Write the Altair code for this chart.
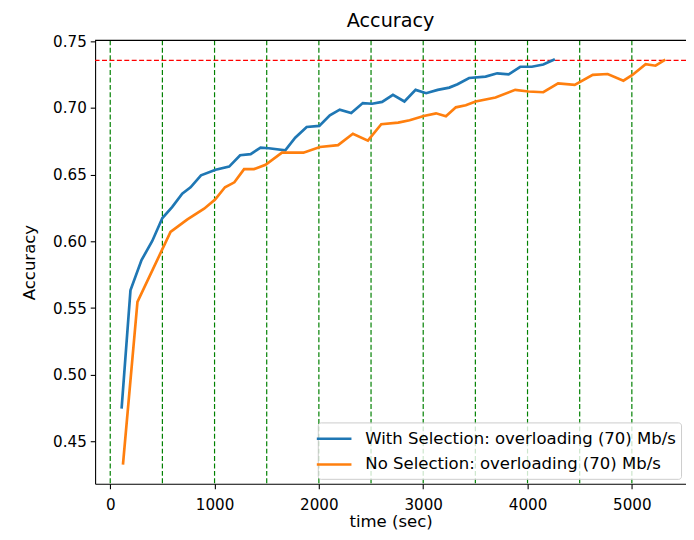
import altair as alt
import pandas as pd

series_names = ["With Selection: overloading (70) Mb/s", "No Selection: overloading (70) Mb/s"]
series_colors = ["#1f77b4", "#ff7f0e"]

with_time = [109, 194, 300, 403, 500, 593, 690, 770, 870, 1010, 1140, 1245, 1346, 1441,
             1520, 1678, 1773, 1883, 2004, 2105, 2200, 2310, 2421, 2510, 2606, 2710, 2820,
             2927, 3028, 3139, 3250, 3329, 3440, 3598, 3709, 3819, 3930, 4041, 4151, 4262]
with_acc = [0.4747, 0.5633, 0.5860, 0.6003, 0.6175, 0.6257, 0.6358, 0.6405, 0.6495, 0.6537,
            0.6561, 0.6646, 0.6654, 0.6703, 0.6698, 0.6683, 0.6777, 0.6858, 0.6866, 0.6945,
            0.6988, 0.6962, 0.7037, 0.7032, 0.7046, 0.7099, 0.7049, 0.7136, 0.7111, 0.7136,
            0.7153, 0.7178, 0.7225, 0.7235, 0.7260, 0.7252, 0.7309, 0.7309, 0.7326, 0.7365]

no_time = [122, 261, 578, 740, 900, 1005, 1100, 1190, 1283, 1378, 1489, 1646, 1852, 2010,
           2184, 2326, 2470, 2598, 2760, 2870, 3005, 3123, 3218, 3313, 3408, 3503, 3693,
           3882, 4009, 4151, 4293, 4452, 4625, 4768, 4919, 5005, 5132, 5227, 5321]
no_acc = [0.4326, 0.5547, 0.6071, 0.6165, 0.6245, 0.6313, 0.6406, 0.6443, 0.6542, 0.6542,
          0.6574, 0.6665, 0.6665, 0.6708, 0.6722, 0.6807, 0.6755, 0.6878, 0.6890, 0.6908,
          0.6940, 0.6960, 0.6938, 0.7005, 0.7020, 0.7049, 0.7079, 0.7136, 0.7124, 0.7118,
          0.7185, 0.7173, 0.7248, 0.7255, 0.7205, 0.7248, 0.7329, 0.7317, 0.7362]

vline_times = [0, 500, 1000, 1500, 2000, 2500, 3000, 3500, 4000, 4500, 5000]
ref_accuracy = [0.7357]
x_ticks = [0, 1000, 2000, 3000, 4000, 5000]
y_ticks = [0.45, 0.50, 0.55, 0.60, 0.65, 0.70, 0.75]

W, H = 597, 448
x_dom = [-145, 5519]
y_dom = [0.4183, 0.7507]

df = pd.concat([
    pd.DataFrame({"time": with_time, "acc": with_acc, "series": series_names[0]}),
    pd.DataFrame({"time": no_time, "acc": no_acc, "series": series_names[1]}),
], ignore_index=True)

xscale = alt.Scale(domain=x_dom, nice=False, zero=False)
yscale = alt.Scale(domain=y_dom, nice=False, zero=False)

xaxis = alt.Axis(values=x_ticks, format="d", title="time (sec)", grid=False,
                 labelFontSize=15.3, titleFontSize=16.7, titleFontWeight="normal",
                 tickSize=4.9, tickColor="black", tickWidth=1.1, domainColor="black",
                 domainWidth=1.1, labelColor="black", titleColor="black",
                 labelPadding=9, titlePadding=1, labelFlush=False)
yaxis = alt.Axis(values=y_ticks, format=".2f", title="Accuracy", grid=False,
                 labelFontSize=15.3, titleFontSize=16.7, titleFontWeight="normal",
                 tickSize=4.9, tickColor="black", tickWidth=1.1, domainColor="black",
                 domainWidth=1.1, labelColor="black", titleColor="black",
                 labelPadding=4, titlePadding=14, labelFlush=False)

vlines = alt.Chart(pd.DataFrame({"t": vline_times})).mark_rule(
    color="#008000", strokeDash=[5, 2.5], strokeWidth=1.2
).encode(x=alt.X("t:Q", scale=xscale, axis=xaxis))

hline = alt.Chart(pd.DataFrame({"a": ref_accuracy})).mark_rule(
    color="#ff0000", strokeDash=[5, 2.5], strokeWidth=1.2
).encode(y=alt.Y("a:Q", scale=yscale, axis=yaxis))

lines = alt.Chart(df).mark_line(strokeWidth=2.7, clip=True).encode(
    x=alt.X("time:Q", scale=xscale, axis=xaxis),
    y=alt.Y("acc:Q", scale=yscale, axis=yaxis),
    color=alt.Color("series:N",
                    scale=alt.Scale(domain=series_names, range=series_colors),
                    legend=alt.Legend(title=None, orient="none", legendX=225, legendY=386,
                                      symbolType="M-1.75,0L1.75,0", symbolSize=400,
                                      symbolStrokeWidth=2.7, labelFontSize=16.7,
                                      labelFont="DejaVu Sans", labelColor="black",
                                      labelOffset=20, labelLimit=600, padding=5,
                                      rowPadding=5, fillColor="rgba(255,255,255,0.8)",
                                      strokeColor="#cccccc", cornerRadius=3, zindex=1)),
)

topline = alt.Chart(pd.DataFrame({"a": ref_accuracy})).mark_rule(
    color="black", strokeWidth=1.1
).encode(y=alt.value(0), x=alt.value(0), x2=alt.value(W))

chart = alt.layer(vlines, hline, lines, topline).properties(
    width=W, height=H,
    title=alt.Title("Accuracy", fontSize=19.4, fontWeight="normal", color="black",
                    font="DejaVu Sans", offset=3, frame="group"),
    autosize=alt.AutoSizeParams(type="none"),
    padding={"left": 88, "top": 30, "right": 0, "bottom": 46},
).configure(font="DejaVu Sans").configure_view(stroke=None)

chart.save("out.html", embed_options={"renderer": "svg", "actions": False})
